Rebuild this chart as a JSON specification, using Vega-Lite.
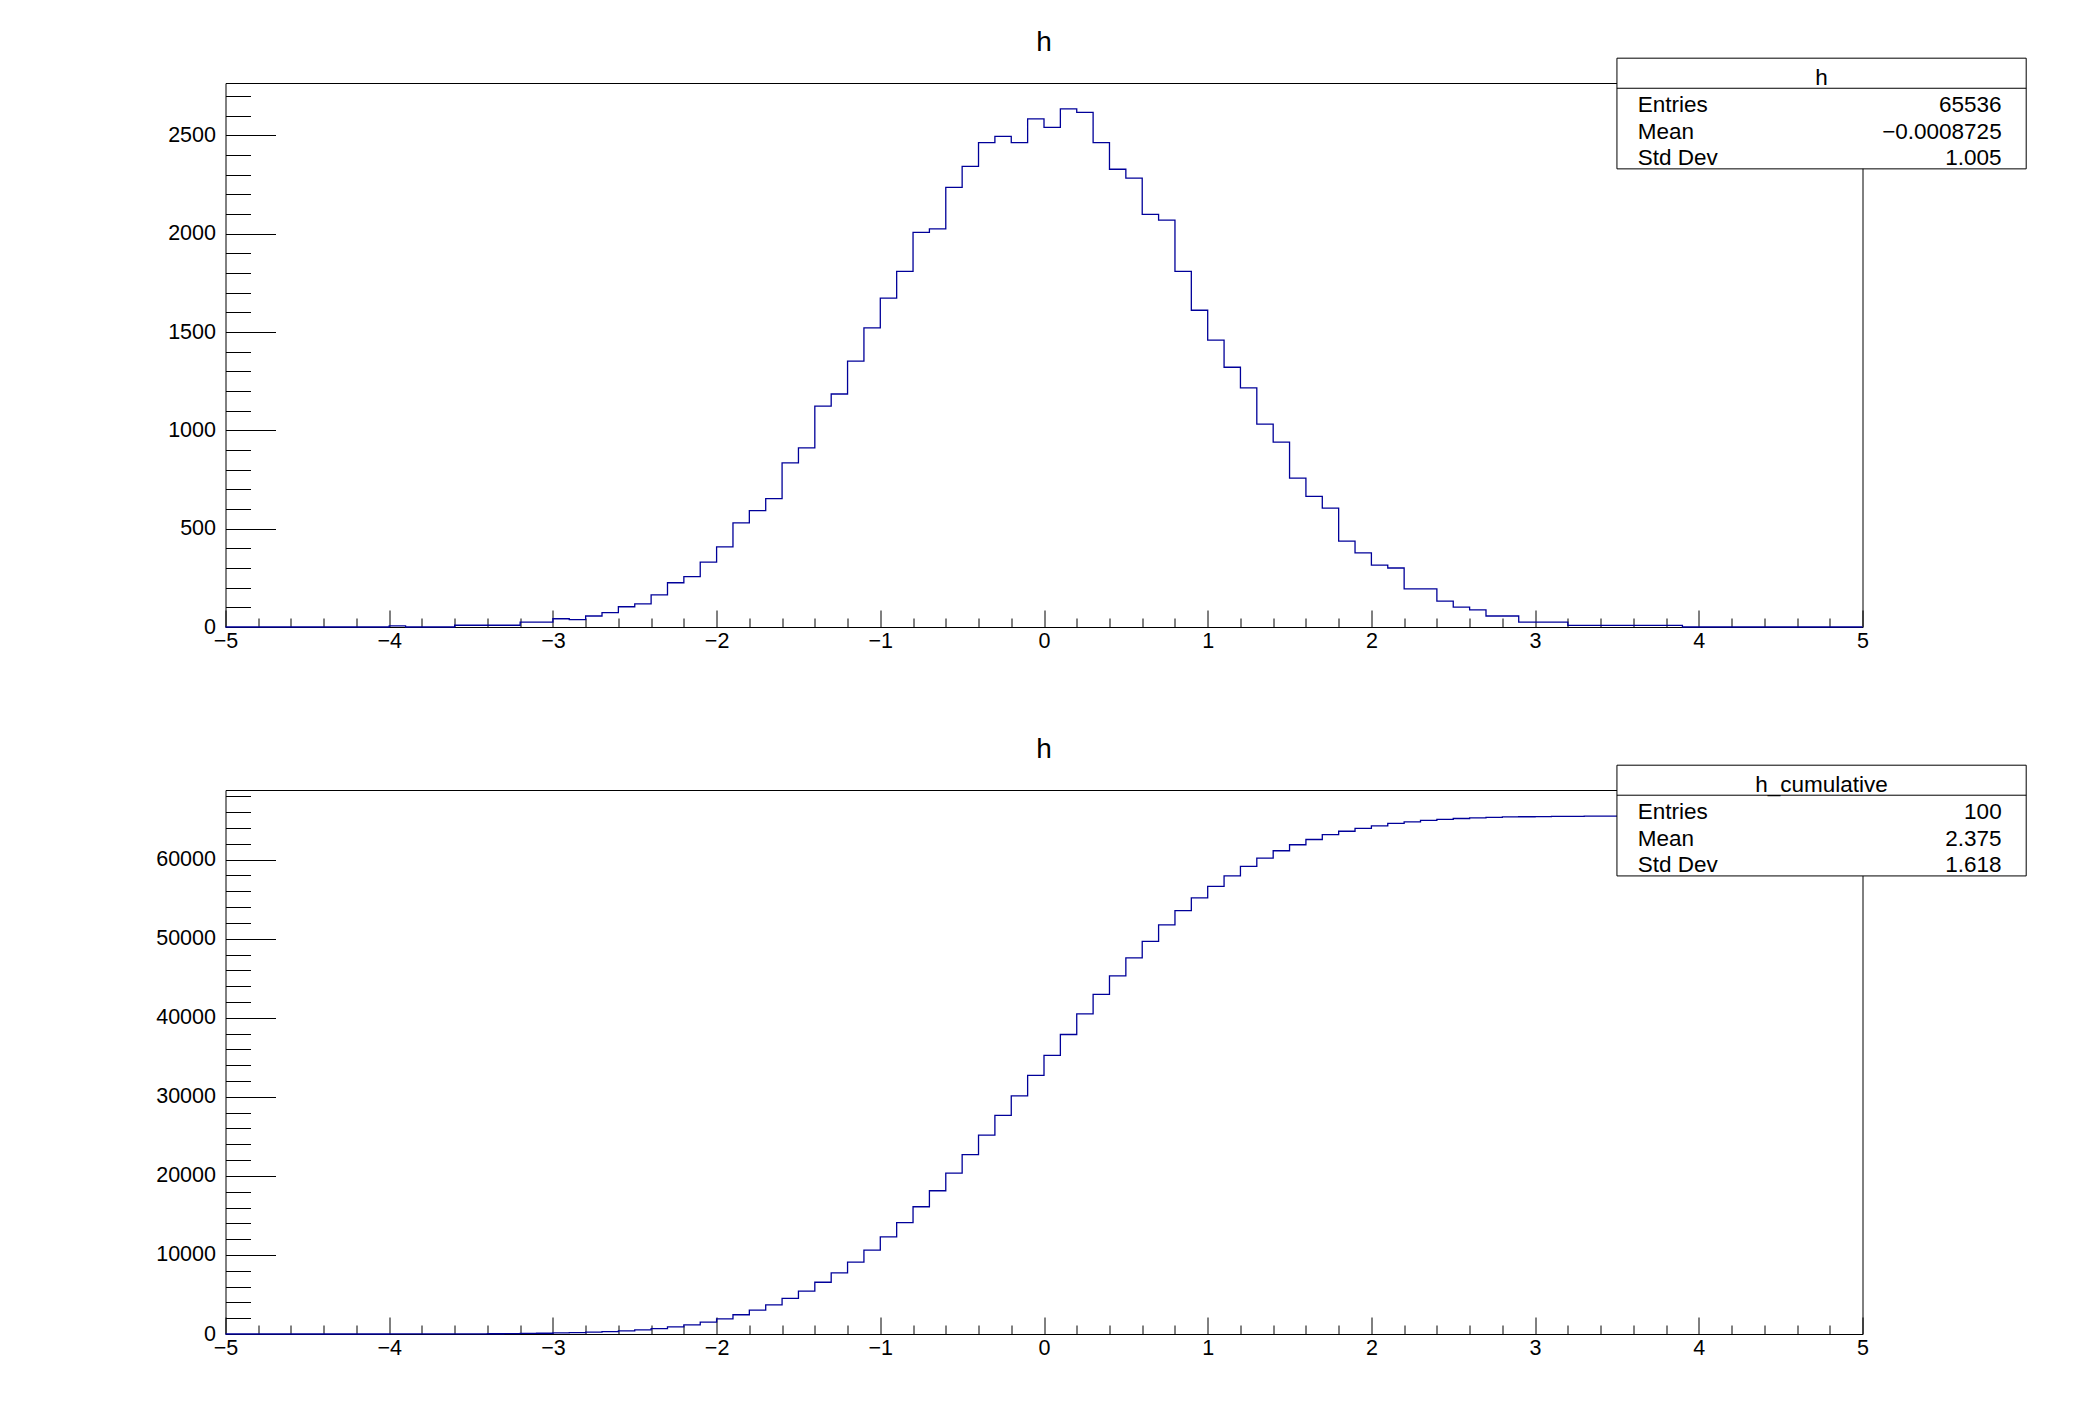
{
  "$schema": "https://vega.github.io/schema/vega-lite/v6.json",
  "padding": {"left": 154.5, "top": 28, "right": 20, "bottom": 20},
  "spacing": 82,
  "config": {
    "font": "Liberation Sans",
    "background": "white",
    "view": {"stroke": "black", "strokeWidth": 1},
    "axis": {
      "grid": false,
      "domain": false,
      "labelFont": "Liberation Sans",
      "labelFontSize": 21.5,
      "labelColor": "black",
      "tickColor": "black",
      "tickWidth": 1,
      "domainColor": "black",
      "labelFlush": false,
      "labelOverlap": false,
      "zindex": 1
    },
    "title": {
      "font": "Liberation Sans",
      "fontSize": 28,
      "fontWeight": "normal",
      "color": "black",
      "anchor": "middle",
      "frame": "group",
      "baseline": "alphabetic",
      "offset": 1
    },
    "text": {"font": "Liberation Sans", "fontSize": 22.5, "color": "black", "baseline": "alphabetic"}
  },
  "datasets": {
    "h": [
      {"x": -5.0, "entries": 0}, {"x": -4.9, "entries": 0}, {"x": -4.8, "entries": 0}, {"x": -4.7, "entries": 0}, {"x": -4.6, "entries": 0},
      {"x": -4.5, "entries": 0}, {"x": -4.4, "entries": 0}, {"x": -4.3, "entries": 0}, {"x": -4.2, "entries": 0}, {"x": -4.1, "entries": 0},
      {"x": -4.0, "entries": 6}, {"x": -3.9, "entries": 0}, {"x": -3.8, "entries": 0}, {"x": -3.7, "entries": 0}, {"x": -3.6, "entries": 9},
      {"x": -3.5, "entries": 9}, {"x": -3.4, "entries": 9}, {"x": -3.3, "entries": 9}, {"x": -3.2, "entries": 25}, {"x": -3.1, "entries": 25},
      {"x": -3.0, "entries": 42}, {"x": -2.9, "entries": 38}, {"x": -2.8, "entries": 56}, {"x": -2.7, "entries": 73}, {"x": -2.6, "entries": 103},
      {"x": -2.5, "entries": 118}, {"x": -2.4, "entries": 163}, {"x": -2.3, "entries": 225}, {"x": -2.2, "entries": 256}, {"x": -2.1, "entries": 330},
      {"x": -2.0, "entries": 408}, {"x": -1.9, "entries": 530}, {"x": -1.8, "entries": 592}, {"x": -1.7, "entries": 653}, {"x": -1.6, "entries": 835},
      {"x": -1.5, "entries": 911}, {"x": -1.4, "entries": 1123}, {"x": -1.3, "entries": 1185}, {"x": -1.2, "entries": 1352}, {"x": -1.1, "entries": 1521},
      {"x": -1.0, "entries": 1673}, {"x": -0.9, "entries": 1809}, {"x": -0.8, "entries": 2007}, {"x": -0.7, "entries": 2025}, {"x": -0.6, "entries": 2236},
      {"x": -0.5, "entries": 2343}, {"x": -0.4, "entries": 2464}, {"x": -0.3, "entries": 2495}, {"x": -0.2, "entries": 2464}, {"x": -0.1, "entries": 2584},
      {"x": 0.0, "entries": 2541}, {"x": 0.1, "entries": 2635}, {"x": 0.2, "entries": 2617}, {"x": 0.3, "entries": 2464}, {"x": 0.4, "entries": 2328},
      {"x": 0.5, "entries": 2283}, {"x": 0.6, "entries": 2099}, {"x": 0.7, "entries": 2069}, {"x": 0.8, "entries": 1809}, {"x": 0.9, "entries": 1611},
      {"x": 1.0, "entries": 1459}, {"x": 1.1, "entries": 1321}, {"x": 1.2, "entries": 1216}, {"x": 1.3, "entries": 1032}, {"x": 1.4, "entries": 940},
      {"x": 1.5, "entries": 757}, {"x": 1.6, "entries": 664}, {"x": 1.7, "entries": 605}, {"x": 1.8, "entries": 437}, {"x": 1.9, "entries": 377},
      {"x": 2.0, "entries": 315}, {"x": 2.1, "entries": 300}, {"x": 2.2, "entries": 194}, {"x": 2.3, "entries": 194}, {"x": 2.4, "entries": 132},
      {"x": 2.5, "entries": 101}, {"x": 2.6, "entries": 87}, {"x": 2.7, "entries": 56}, {"x": 2.8, "entries": 56}, {"x": 2.9, "entries": 25},
      {"x": 3.0, "entries": 25}, {"x": 3.1, "entries": 25}, {"x": 3.2, "entries": 8}, {"x": 3.3, "entries": 8}, {"x": 3.4, "entries": 8},
      {"x": 3.5, "entries": 8}, {"x": 3.6, "entries": 8}, {"x": 3.7, "entries": 8}, {"x": 3.8, "entries": 8}, {"x": 3.9, "entries": 0},
      {"x": 4.0, "entries": 0}, {"x": 4.1, "entries": 0}, {"x": 4.2, "entries": 0}, {"x": 4.3, "entries": 0}, {"x": 4.4, "entries": 0},
      {"x": 4.5, "entries": 0}, {"x": 4.6, "entries": 0}, {"x": 4.7, "entries": 0}, {"x": 4.8, "entries": 0}, {"x": 4.9, "entries": 0},
      {"x": 5.0, "entries": 0}
    ],
    "h_cumulative": [
      {"x": -5.0, "entries": 0}, {"x": -4.9, "entries": 0}, {"x": -4.8, "entries": 0}, {"x": -4.7, "entries": 0}, {"x": -4.6, "entries": 0},
      {"x": -4.5, "entries": 0}, {"x": -4.4, "entries": 0}, {"x": -4.3, "entries": 0}, {"x": -4.2, "entries": 0}, {"x": -4.1, "entries": 0},
      {"x": -4.0, "entries": 6}, {"x": -3.9, "entries": 6}, {"x": -3.8, "entries": 6}, {"x": -3.7, "entries": 6}, {"x": -3.6, "entries": 15},
      {"x": -3.5, "entries": 24}, {"x": -3.4, "entries": 33}, {"x": -3.3, "entries": 42}, {"x": -3.2, "entries": 67}, {"x": -3.1, "entries": 92},
      {"x": -3.0, "entries": 134}, {"x": -2.9, "entries": 172}, {"x": -2.8, "entries": 228}, {"x": -2.7, "entries": 301}, {"x": -2.6, "entries": 404},
      {"x": -2.5, "entries": 522}, {"x": -2.4, "entries": 685}, {"x": -2.3, "entries": 910}, {"x": -2.2, "entries": 1166}, {"x": -2.1, "entries": 1496},
      {"x": -2.0, "entries": 1904}, {"x": -1.9, "entries": 2434}, {"x": -1.8, "entries": 3026}, {"x": -1.7, "entries": 3679}, {"x": -1.6, "entries": 4514},
      {"x": -1.5, "entries": 5425}, {"x": -1.4, "entries": 6548}, {"x": -1.3, "entries": 7733}, {"x": -1.2, "entries": 9085}, {"x": -1.1, "entries": 10606},
      {"x": -1.0, "entries": 12279}, {"x": -0.9, "entries": 14088}, {"x": -0.8, "entries": 16095}, {"x": -0.7, "entries": 18120}, {"x": -0.6, "entries": 20356},
      {"x": -0.5, "entries": 22699}, {"x": -0.4, "entries": 25163}, {"x": -0.3, "entries": 27658}, {"x": -0.2, "entries": 30122}, {"x": -0.1, "entries": 32706},
      {"x": 0.0, "entries": 35247}, {"x": 0.1, "entries": 37882}, {"x": 0.2, "entries": 40499}, {"x": 0.3, "entries": 42963}, {"x": 0.4, "entries": 45291},
      {"x": 0.5, "entries": 47574}, {"x": 0.6, "entries": 49673}, {"x": 0.7, "entries": 51742}, {"x": 0.8, "entries": 53551}, {"x": 0.9, "entries": 55162},
      {"x": 1.0, "entries": 56621}, {"x": 1.1, "entries": 57942}, {"x": 1.2, "entries": 59158}, {"x": 1.3, "entries": 60190}, {"x": 1.4, "entries": 61130},
      {"x": 1.5, "entries": 61887}, {"x": 1.6, "entries": 62551}, {"x": 1.7, "entries": 63156}, {"x": 1.8, "entries": 63593}, {"x": 1.9, "entries": 63970},
      {"x": 2.0, "entries": 64285}, {"x": 2.1, "entries": 64585}, {"x": 2.2, "entries": 64779}, {"x": 2.3, "entries": 64973}, {"x": 2.4, "entries": 65105},
      {"x": 2.5, "entries": 65206}, {"x": 2.6, "entries": 65293}, {"x": 2.7, "entries": 65349}, {"x": 2.8, "entries": 65405}, {"x": 2.9, "entries": 65430},
      {"x": 3.0, "entries": 65455}, {"x": 3.1, "entries": 65480}, {"x": 3.2, "entries": 65488}, {"x": 3.3, "entries": 65496}, {"x": 3.4, "entries": 65504},
      {"x": 3.5, "entries": 65512}, {"x": 3.6, "entries": 65520}, {"x": 3.7, "entries": 65528}, {"x": 3.8, "entries": 65536}, {"x": 3.9, "entries": 65536},
      {"x": 4.0, "entries": 65536}, {"x": 4.1, "entries": 65536}, {"x": 4.2, "entries": 65536}, {"x": 4.3, "entries": 65536}, {"x": 4.4, "entries": 65536},
      {"x": 4.5, "entries": 65536}, {"x": 4.6, "entries": 65536}, {"x": 4.7, "entries": 65536}, {"x": 4.8, "entries": 65536}, {"x": 4.9, "entries": 65536},
      {"x": 5.0, "entries": 65536}
    ],
    "stats_h": [
      {"stat": "name", "value": "h"},
      {"stat": "Entries", "value": "65536"},
      {"stat": "Mean", "value": "−0.0008725"},
      {"stat": "Std Dev", "value": "1.005"}
    ],
    "stats_hc": [
      {"stat": "name", "value": "h_cumulative"},
      {"stat": "Entries", "value": "100"},
      {"stat": "Mean", "value": "2.375"},
      {"stat": "Std Dev", "value": "1.618"}
    ]
  },
  "vconcat": [
    {
      "width": 1637,
      "height": 544,
      "title": {"text": "h"},
      "resolve": {"axis": {"x": "independent", "y": "independent"}},
      "layer": [
        {
          "data": {"name": "h"},
          "mark": {"type": "line", "interpolate": "step-after", "color": "#000099", "strokeWidth": 1.3},
          "encoding": {
            "x": {
              "field": "x", "type": "quantitative",
              "scale": {"domain": [-5, 5], "nice": false, "zero": false},
              "axis": {"orient": "bottom", "title": null, "values": [-5, -4, -3, -2, -1, 0, 1, 2, 3, 4, 5], "format": "d", "ticks": false, "labelPadding": 3.5}
            },
            "y": {
              "field": "entries", "type": "quantitative",
              "scale": {"domain": [0, 2766.75], "nice": false},
              "axis": {"orient": "left", "title": null, "values": [0, 500, 1000, 1500, 2000, 2500], "format": "d", "ticks": false, "labelPadding": 10, "labelBaseline": "middle"}
            }
          }
        },
        {
          "data": {"values": [{}]},
          "mark": {"type": "rect", "fill": "white", "stroke": "black", "strokeWidth": 1},
          "encoding": {
            "x": {"datum": 3.5, "type": "quantitative", "axis": {"orient": "bottom", "title": null, "labels": false, "domain": true, "tickSize": -17, "values": [-5, -4, -3, -2, -1, 0, 1, 2, 3, 4, 5]}},
            "x2": {"datum": 6.0},
            "y": {"datum": 2893, "type": "quantitative", "axis": {"orient": "left", "title": null, "labels": false, "tickSize": -50, "values": [0, 500, 1000, 1500, 2000, 2500]}},
            "y2": {"datum": 2330}
          }
        },
        {
          "data": {"values": [{}]},
          "mark": {"type": "rule", "color": "black", "strokeWidth": 1},
          "encoding": {
            "x": {"datum": 3.5, "type": "quantitative", "axis": {"orient": "bottom", "title": null, "labels": false, "tickSize": -9, "values": [-4.8, -4.6, -4.4, -4.2, -3.8, -3.6, -3.4, -3.2, -2.8, -2.6, -2.4, -2.2, -1.8, -1.6, -1.4, -1.2, -0.8, -0.6, -0.4, -0.2, 0.2, 0.4, 0.6, 0.8, 1.2, 1.4, 1.6, 1.8, 2.2, 2.4, 2.6, 2.8, 3.2, 3.4, 3.6, 3.8, 4.2, 4.4, 4.6, 4.8]}},
            "x2": {"datum": 6.0},
            "y": {"datum": 2740, "type": "quantitative", "axis": {"orient": "left", "title": null, "labels": false, "tickSize": -25, "values": [100, 200, 300, 400, 600, 700, 800, 900, 1100, 1200, 1300, 1400, 1600, 1700, 1800, 1900, 2100, 2200, 2300, 2400, 2600, 2700]}}
          }
        },
        {
          "data": {"name": "stats_h"},
          "transform": [{"filter": "datum.stat == 'name'"}],
          "mark": {"type": "text", "align": "center"},
          "encoding": {
            "x": {"datum": 4.75, "type": "quantitative", "axis": null},
            "y": {"datum": 2757, "type": "quantitative", "axis": null},
            "text": {"field": "value"}
          }
        },
        {
          "data": {"name": "stats_h"},
          "transform": [{"filter": "datum.stat == 'Entries'"}],
          "mark": {"type": "text", "align": "left"},
          "encoding": {"x": {"datum": 3.627, "type": "quantitative", "axis": null}, "y": {"datum": 2620, "type": "quantitative", "axis": null}, "text": {"field": "stat"}}
        },
        {
          "data": {"name": "stats_h"},
          "transform": [{"filter": "datum.stat == 'Entries'"}],
          "mark": {"type": "text", "align": "right"},
          "encoding": {"x": {"datum": 5.85, "type": "quantitative", "axis": null}, "y": {"datum": 2620, "type": "quantitative", "axis": null}, "text": {"field": "value"}}
        },
        {
          "data": {"name": "stats_h"},
          "transform": [{"filter": "datum.stat == 'Mean'"}],
          "mark": {"type": "text", "align": "left"},
          "encoding": {"x": {"datum": 3.627, "type": "quantitative", "axis": null}, "y": {"datum": 2482, "type": "quantitative", "axis": null}, "text": {"field": "stat"}}
        },
        {
          "data": {"name": "stats_h"},
          "transform": [{"filter": "datum.stat == 'Mean'"}],
          "mark": {"type": "text", "align": "right"},
          "encoding": {"x": {"datum": 5.85, "type": "quantitative", "axis": null}, "y": {"datum": 2482, "type": "quantitative", "axis": null}, "text": {"field": "value"}}
        },
        {
          "data": {"name": "stats_h"},
          "transform": [{"filter": "datum.stat == 'Std Dev'"}],
          "mark": {"type": "text", "align": "left"},
          "encoding": {"x": {"datum": 3.627, "type": "quantitative", "axis": null}, "y": {"datum": 2350, "type": "quantitative", "axis": null}, "text": {"field": "stat"}}
        },
        {
          "data": {"name": "stats_h"},
          "transform": [{"filter": "datum.stat == 'Std Dev'"}],
          "mark": {"type": "text", "align": "right"},
          "encoding": {"x": {"datum": 5.85, "type": "quantitative", "axis": null}, "y": {"datum": 2350, "type": "quantitative", "axis": null}, "text": {"field": "value"}}
        }
      ]
    },
    {
      "width": 1637,
      "height": 544,
      "title": {"text": "h"},
      "resolve": {"axis": {"x": "independent", "y": "independent"}},
      "layer": [
        {
          "data": {"name": "h_cumulative"},
          "mark": {"type": "line", "interpolate": "step-after", "color": "#000099", "strokeWidth": 1.3},
          "encoding": {
            "x": {
              "field": "x", "type": "quantitative",
              "scale": {"domain": [-5, 5], "nice": false, "zero": false},
              "axis": {"orient": "bottom", "title": null, "values": [-5, -4, -3, -2, -1, 0, 1, 2, 3, 4, 5], "format": "d", "ticks": false, "labelPadding": 3.5}
            },
            "y": {
              "field": "entries", "type": "quantitative",
              "scale": {"domain": [0, 68812.8], "nice": false},
              "axis": {"orient": "left", "title": null, "values": [0, 10000, 20000, 30000, 40000, 50000, 60000], "format": "d", "ticks": false, "labelPadding": 10, "labelBaseline": "middle"}
            }
          }
        },
        {
          "data": {"values": [{}]},
          "mark": {"type": "rect", "fill": "white", "stroke": "black", "strokeWidth": 1},
          "encoding": {
            "x": {"datum": 3.5, "type": "quantitative", "axis": {"orient": "bottom", "title": null, "labels": false, "domain": true, "tickSize": -17, "values": [-5, -4, -3, -2, -1, 0, 1, 2, 3, 4, 5]}},
            "x2": {"datum": 6.0},
            "y": {"datum": 71951, "type": "quantitative", "axis": {"orient": "left", "title": null, "labels": false, "tickSize": -50, "values": [0, 10000, 20000, 30000, 40000, 50000, 60000]}},
            "y2": {"datum": 57943}
          }
        },
        {
          "data": {"values": [{}]},
          "mark": {"type": "rule", "color": "black", "strokeWidth": 1},
          "encoding": {
            "x": {"datum": 3.5, "type": "quantitative", "axis": {"orient": "bottom", "title": null, "labels": false, "tickSize": -9, "values": [-4.8, -4.6, -4.4, -4.2, -3.8, -3.6, -3.4, -3.2, -2.8, -2.6, -2.4, -2.2, -1.8, -1.6, -1.4, -1.2, -0.8, -0.6, -0.4, -0.2, 0.2, 0.4, 0.6, 0.8, 1.2, 1.4, 1.6, 1.8, 2.2, 2.4, 2.6, 2.8, 3.2, 3.4, 3.6, 3.8, 4.2, 4.4, 4.6, 4.8]}},
            "x2": {"datum": 6.0},
            "y": {"datum": 68154, "type": "quantitative", "axis": {"orient": "left", "title": null, "labels": false, "tickSize": -25, "values": [2000, 4000, 6000, 8000, 12000, 14000, 16000, 18000, 22000, 24000, 26000, 28000, 32000, 34000, 36000, 38000, 42000, 44000, 46000, 48000, 52000, 54000, 56000, 58000, 62000, 64000, 66000, 68000]}}
          }
        },
        {
          "data": {"name": "stats_hc"},
          "transform": [{"filter": "datum.stat == 'name'"}],
          "mark": {"type": "text", "align": "center"},
          "encoding": {
            "x": {"datum": 4.75, "type": "quantitative", "axis": null},
            "y": {"datum": 68570, "type": "quantitative", "axis": null},
            "text": {"field": "value"}
          }
        },
        {
          "data": {"name": "stats_hc"},
          "transform": [{"filter": "datum.stat == 'Entries'"}],
          "mark": {"type": "text", "align": "left"},
          "encoding": {"x": {"datum": 3.627, "type": "quantitative", "axis": null}, "y": {"datum": 65155, "type": "quantitative", "axis": null}, "text": {"field": "stat"}}
        },
        {
          "data": {"name": "stats_hc"},
          "transform": [{"filter": "datum.stat == 'Entries'"}],
          "mark": {"type": "text", "align": "right"},
          "encoding": {"x": {"datum": 5.85, "type": "quantitative", "axis": null}, "y": {"datum": 65155, "type": "quantitative", "axis": null}, "text": {"field": "value"}}
        },
        {
          "data": {"name": "stats_hc"},
          "transform": [{"filter": "datum.stat == 'Mean'"}],
          "mark": {"type": "text", "align": "left"},
          "encoding": {"x": {"datum": 3.627, "type": "quantitative", "axis": null}, "y": {"datum": 61739, "type": "quantitative", "axis": null}, "text": {"field": "stat"}}
        },
        {
          "data": {"name": "stats_hc"},
          "transform": [{"filter": "datum.stat == 'Mean'"}],
          "mark": {"type": "text", "align": "right"},
          "encoding": {"x": {"datum": 5.85, "type": "quantitative", "axis": null}, "y": {"datum": 61739, "type": "quantitative", "axis": null}, "text": {"field": "value"}}
        },
        {
          "data": {"name": "stats_hc"},
          "transform": [{"filter": "datum.stat == 'Std Dev'"}],
          "mark": {"type": "text", "align": "left"},
          "encoding": {"x": {"datum": 3.627, "type": "quantitative", "axis": null}, "y": {"datum": 58449, "type": "quantitative", "axis": null}, "text": {"field": "stat"}}
        },
        {
          "data": {"name": "stats_hc"},
          "transform": [{"filter": "datum.stat == 'Std Dev'"}],
          "mark": {"type": "text", "align": "right"},
          "encoding": {"x": {"datum": 5.85, "type": "quantitative", "axis": null}, "y": {"datum": 58449, "type": "quantitative", "axis": null}, "text": {"field": "value"}}
        }
      ]
    }
  ]
}
